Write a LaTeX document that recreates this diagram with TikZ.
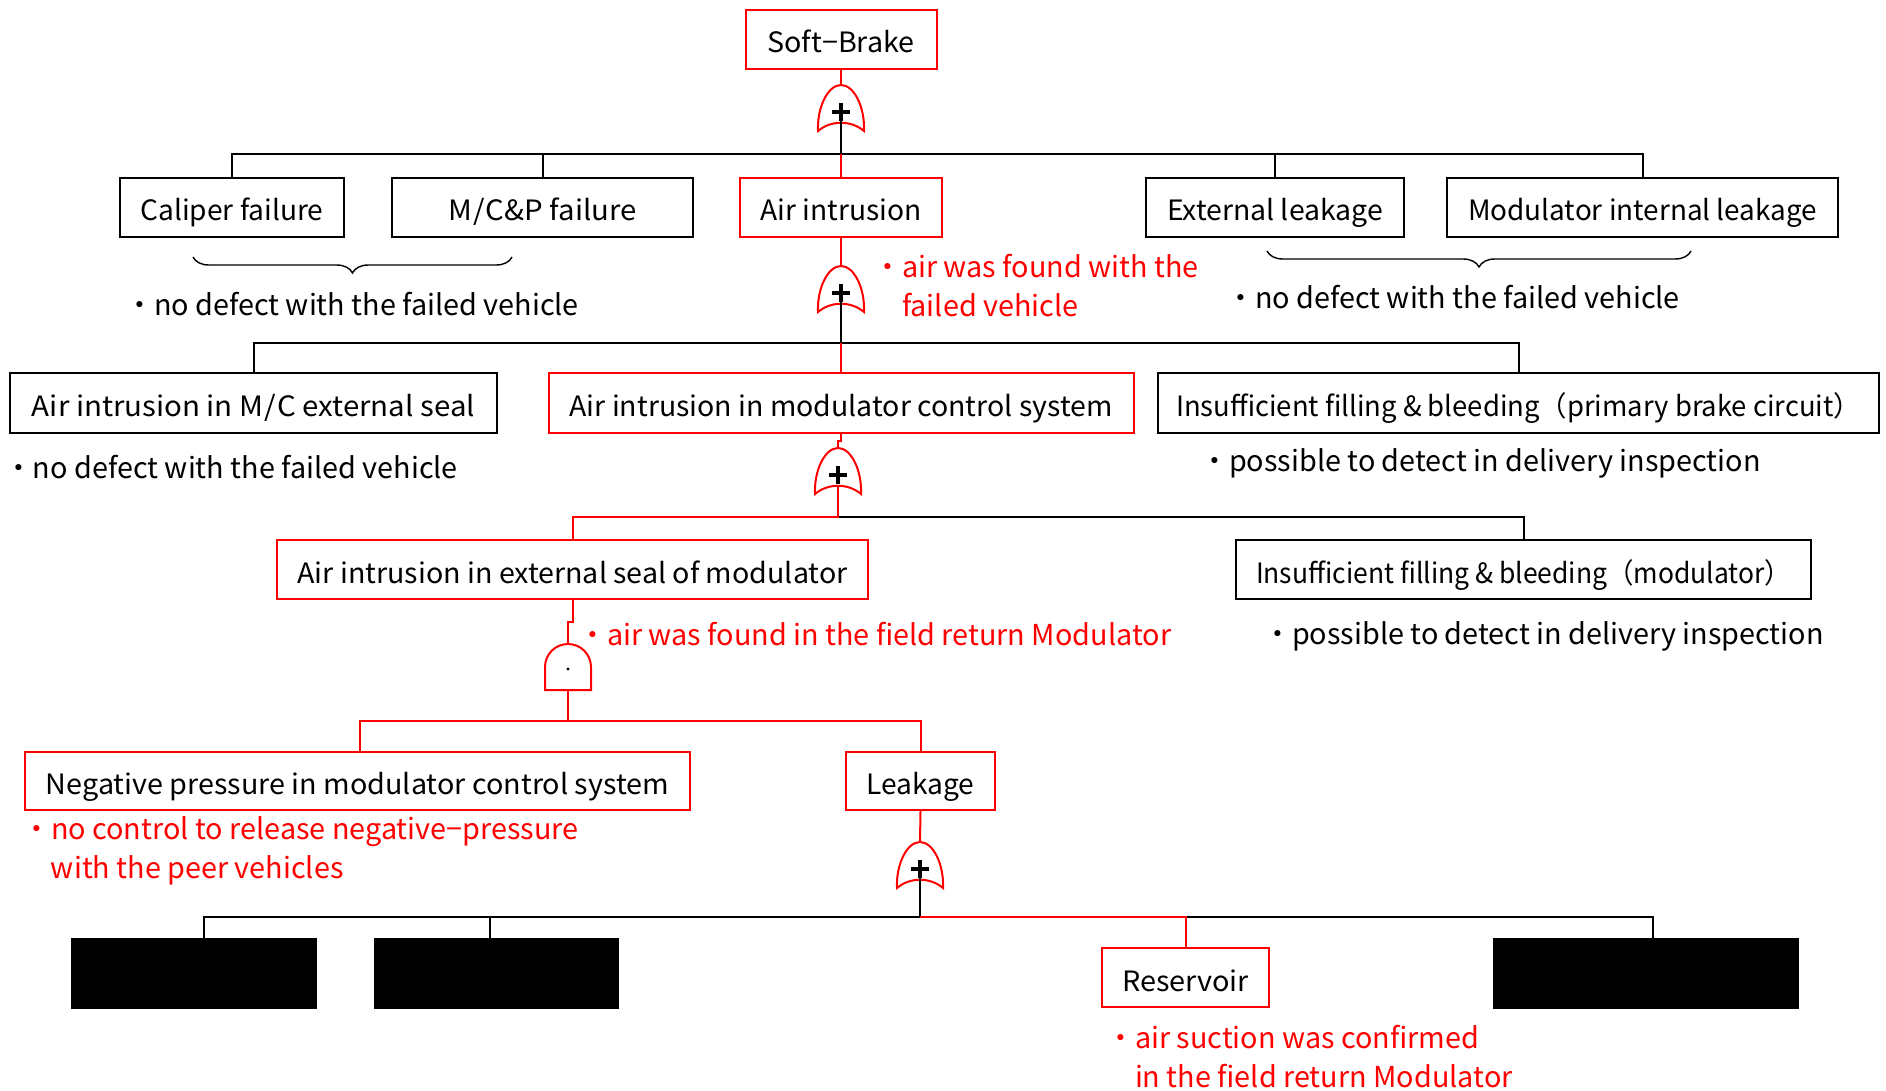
\documentclass[tikz,border=0pt]{standalone}
\usepackage{fontspec}
\setmainfont{Noto Sans CJK JP}
\usepackage{graphicx}
\usetikzlibrary{decorations.pathreplacing}
\definecolor{fred}{RGB}{255,0,0}
% set a label to a given width, keeping its height
\newcommand{\fitto}[2]{\resizebox{#1pt}{\height}{#2}}

\begin{document}
\begin{tikzpicture}[x=1pt,y=-1pt,
  box/.style={draw=black, line width=2pt, inner sep=0pt, text=black,
    text height=27pt, text depth=0pt,
    font=\fontsize{28}{34}\selectfont},
  redbox/.style={box, draw=fred},
  hiddenbox/.style={fill=black, draw=black, inner sep=0pt},
  blk/.style={draw=black, line width=2pt},
  rl/.style={draw=fred, line width=2pt},
  stem/.style={draw=black, line width=2.6pt},
  note/.style={font=\fontsize{28.8}{38.5}\selectfont, inner sep=0pt,
    anchor=base west, align=left, text=black},
  rnote/.style={note, text=fred},
  bracket/.style={draw=black, line width=1.4pt, decorate,
    decoration={brace, amplitude=16pt, mirror}},
  orgate/.pic={
    \draw[fred, line width=2pt] (-23,46) .. controls (-24,22) and (-13,0) .. (0,0)
      .. controls (13,0) and (24,22) .. (23,46)
      .. controls (10,35) and (-10,35) .. (-23,46) -- cycle;
    \draw[black, line width=3.2pt] (-9,27) -- (9,27) (0,18) -- (0,36);
    \coordinate (-in) at (0,0);
    \coordinate (-c) at (0,27);
    \coordinate (-out) at (0,38);
  },
  andgate/.pic={
    \draw[fred, line width=2pt] (-23,46) -- (-23,23)
      .. controls (-23,10.3) and (-12.7,0) .. (0,0)
      .. controls (12.7,0) and (23,10.3) .. (23,23) -- (23,46) -- cycle;
    \fill[black] (0,25) circle (1.6);
    \coordinate (-in) at (0,0);
    \coordinate (-out) at (0,46);
  },
]
\useasboundingbox (0,0) rectangle (1886,1091);

% ---- events ----
\node[redbox, minimum width=191, minimum height=59] (top) at (841,39.5) {\fitto{147}{Soft−Brake}};

\node[box, minimum width=224, minimum height=59] (cal) at (232,207.5) {\fitto{183}{Caliper failure}};
\node[box, minimum width=301, minimum height=59] (mcp) at (542.5,207.5) {\fitto{188}{M\kern1pt/\kern1pt C\&P failure}};
\node[redbox, minimum width=202, minimum height=59] (air) at (841,207.5) {\fitto{161}{Air intrusion}};
\node[box, minimum width=258, minimum height=59] (ext) at (1275,207.5) {\fitto{216}{External leakage}};
\node[box, minimum width=391, minimum height=59] (mil) at (1642.5,207.5) {\fitto{349}{Modulator internal leakage}};

\node[box, minimum width=487, minimum height=60] (mcs) at (253.5,403) {\fitto{443}{Air intrusion in M\kern1pt/\kern1pt C external seal}};
\node[redbox, minimum width=585, minimum height=60] (mod) at (841,403) {\fitto{543}{Air intrusion in modulator control system}};
\node[box, minimum width=721, minimum height=60] (ifp) at (1518.5,403) {\fitto{685}{Insufficient filling \& bleeding（primary brake circuit）}};

\node[redbox, minimum width=591, minimum height=59] (aes) at (572.5,569.5) {\fitto{550}{Air intrusion in external seal of modulator}};
\node[box, minimum width=575, minimum height=59] (ifm) at (1523.5,569.5) {\fitto{535}{Insufficient filling \& bleeding（modulator）}};

\node[redbox, minimum width=665, minimum height=58] (neg) at (357.5,781) {\fitto{623}{Negative pressure in modulator control system}};
\node[redbox, minimum width=149, minimum height=58] (leak) at (920.5,781) {\fitto{108}{Leakage}};

\node[hiddenbox, minimum width=245, minimum height=70] (b1) at (193.5,973) {};
\node[hiddenbox, minimum width=244, minimum height=70] (b2) at (496,973) {};
\node[redbox, minimum width=167, minimum height=59] (res) at (1185.5,977.5) {\fitto{127}{Reservoir}};
\node[hiddenbox, minimum width=305, minimum height=70] (b3) at (1645.5,973) {};

% ---- gates ----
\pic (g1) at (841,85) {orgate};
\pic (g2) at (841,266) {orgate};
\pic (g3) at (838,448) {orgate};
\pic (ga) at (568,644) {andgate};
\pic (g4) at (920,842) {orgate};

% ---- bus rails ----
\coordinate (bar1) at (841,154);
\coordinate (bar2) at (841,343);
\coordinate (bar3) at (838,517);
\coordinate (bar4) at (568,721);
\coordinate (bar5) at (920,917);

% level 1
\draw[rl] (top.south) -- (g1-in);
\draw[blk] (cal.north) |- (bar1) -| (mil.north);
\draw[blk] (mcp.north) -- (mcp.north |- bar1);
\draw[blk] (ext.north) -- (ext.north |- bar1);
\draw[stem] (g1-c) -- (bar1);
\draw[rl] (bar1) -- (air.north);

% level 2
\draw[rl] (air.south) -- (g2-in);
\draw[blk] (mcs.north) |- (bar2) -| (ifp.north);
\draw[stem] (g2-c) -- (bar2);
\draw[rl] (bar2) -- (mod.north);

% level 3
\draw[rl] (mod.south) -- ++(0,7) -| (g3-in);
\draw[blk] (bar3) -| (ifm.north);
\draw[rl] (g3-out) -- (bar3) -| (aes.north);

% level 4
\draw[rl] (aes.south) -- ++(0,22) -| (ga-in);
\draw[rl] (ga-out) -- (bar4);
\draw[rl] ([xshift=2.5pt]neg.north) |- (bar4) -| (leak.north);

% level 5
\draw[rl] (leak.south) -- (g4-in);
\draw[blk] ([xshift=10.5pt]b1.north) |- (bar5);
\draw[blk] ([xshift=-6pt]b2.north) -- ([xshift=-6pt]b2.north |- bar5);
\draw[blk] (res.north |- bar5) -| ([xshift=7.5pt]b3.north);
\draw[stem] (g4-c) -- (bar5);
\draw[rl] (bar5) -| (res.north);

% ---- brackets and remarks ----
\draw[bracket] (193,257) -- (512,257);
\draw[bracket] (1267,251) -- (1691,251);

\node[note] (n1) at (125,315) {・no defect with the failed vehicle};
\node[note] (n2) at (1226,308.5) {・no defect with the failed vehicle};
\node[rnote] (n3) at (873,316) {・air was found with the\\\hphantom{・}failed vehicle};
\node[note] (n4) at (4,478.5) {・no defect with the failed vehicle};
\node[note] (n5) at (1200,471.5) {・possible to detect in delivery inspection};
\node[rnote] (n6) at (578,645) {・air was found in the field return Modulator};
\node[note] (n7) at (1263,644.5) {・possible to detect in delivery inspection};
\node[rnote] (n8) at (22,878) {・no control to release negative−pressure\\\hphantom{・}with the peer vehicles};
\node[rnote] (n9) at (1106,1087) {・air suction was confirmed\\\hphantom{・}in the field return Modulator};
\end{tikzpicture}
\end{document}
